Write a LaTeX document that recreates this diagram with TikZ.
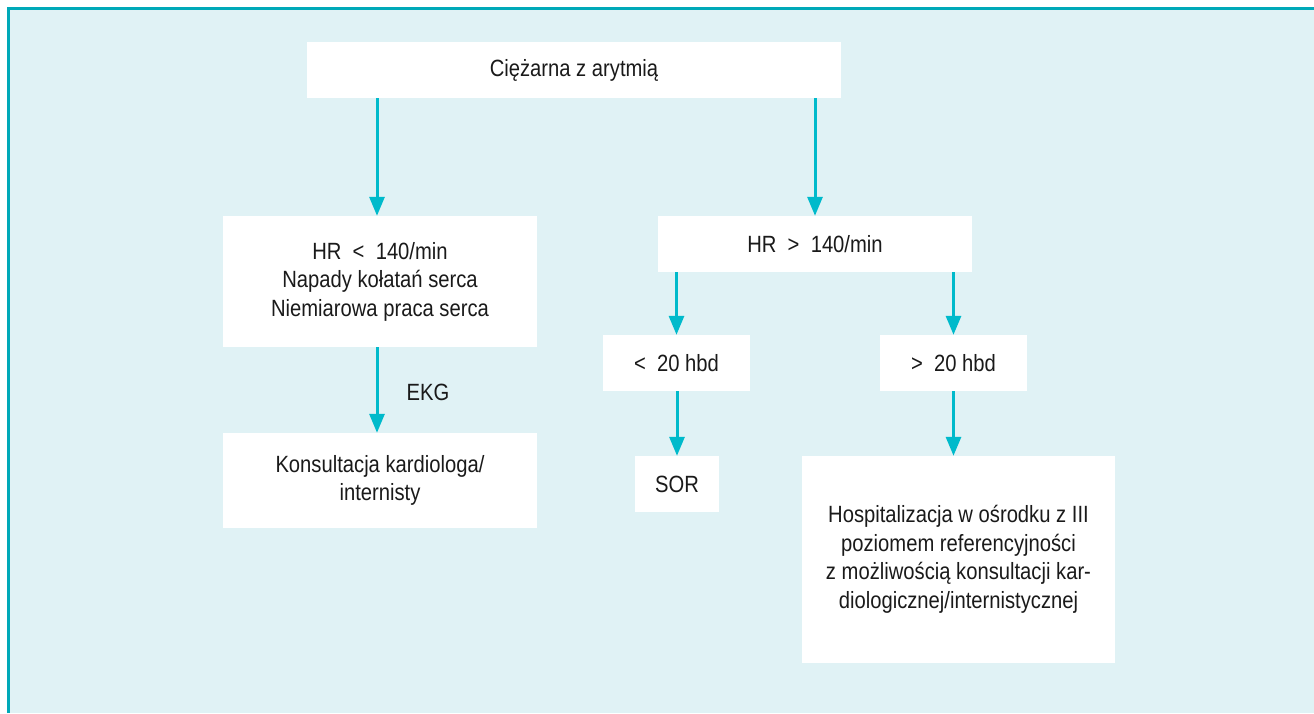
\documentclass[tikz,border=0pt]{standalone}
\usepackage{fontspec}
\setmainfont[FakeStretch=0.86]{Liberation Sans}
\usetikzlibrary{arrows.meta}
\definecolor{panelbg}{HTML}{E0F2F5}
\definecolor{frameline}{HTML}{00A9B8}
\definecolor{flowarrow}{HTML}{00BACB}
\definecolor{ink}{HTML}{1A1A1A}
\tikzset{
  box/.style={fill=white, draw=none, inner sep=0pt, align=center, text=ink,
    font=\fontsize{23.5}{28.5}\selectfont},
  arr/.style={draw=flowarrow, line width=3pt,
    -{Triangle[width=15pt,length=19pt]}, fill=flowarrow},
  lbl/.style={text=ink, inner sep=0pt, font=\fontsize{23.5}{28.5}\selectfont}
}
\begin{document}
\begin{tikzpicture}[x=1pt,y=-1pt]
\useasboundingbox (0,0) rectangle (1314,713);
% panel and its frame
\fill[panelbg] (10,10) rectangle (1314,713);
\draw[frameline, line width=3pt] (8.5,713) -- (8.5,8.5) -- (1314,8.5);

% boxes
\node[box, minimum width=534pt, minimum height=56pt] (top) at (574,70) {Ciężarna z arytmią};
\node[box, minimum width=314pt, minimum height=131pt] (hrlow) at (380,281.5)
  {HR \ < \ 140/min\\Napady kołatań serca\\Niemiarowa praca serca};
\node[box, minimum width=314pt, minimum height=56pt] (hrhigh) at (815,244) {HR \ > \ 140/min};
\node[box, minimum width=147pt, minimum height=56pt] (lt20) at (676.5,363) {< \ 20 hbd};
\node[box, minimum width=147pt, minimum height=56pt] (gt20) at (953.5,363) {> \ 20 hbd};
\node[box, minimum width=84pt, minimum height=56pt] (sor) at (677,484) {SOR};
\node[box, minimum width=313pt, minimum height=207pt] (hosp) at (958.5,559.5)
  {Hospitalizacja w ośrodku z III\\poziomem referencyjności\\z możliwością konsultacji kar-\\diologicznej/internistycznej};
\node[box, minimum width=314pt, minimum height=95pt] (kons) at (380,480.5)
  {Konsultacja kardiologa/\\internisty};
\node[lbl] (ekg) at (428,392) {EKG};

% connectors
\draw[arr] ([xshift=-3pt]hrlow.north |- top.south) -- ([xshift=-3pt]hrlow.north);
\draw[arr] (hrhigh.north |- top.south) -- (hrhigh.north);
\draw[arr] ([xshift=-3pt]hrlow.south) -- ([xshift=-3pt]hrlow.south |- kons.north);
\draw[arr] (lt20.north |- hrhigh.south) -- (lt20.north);
\draw[arr] (gt20.north |- hrhigh.south) -- (gt20.north);
\draw[arr] (sor.north |- lt20.south) -- (sor.north);
\draw[arr] (gt20.south) -- (gt20.south |- hosp.north);
\end{tikzpicture}
\end{document}
